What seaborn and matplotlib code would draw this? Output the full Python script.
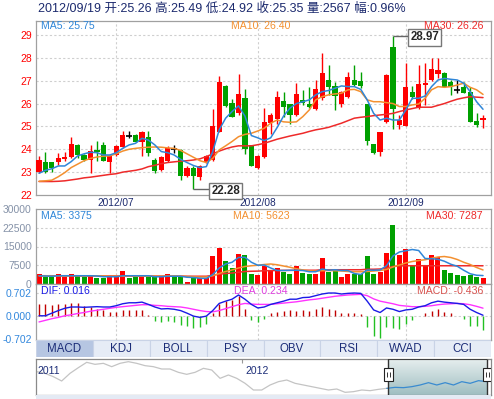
import numpy as np
import matplotlib
matplotlib.use("Agg")
import matplotlib.pyplot as plt
from matplotlib.colors import LinearSegmentedColormap
from matplotlib.patches import Rectangle
import seaborn as sns

# daily candles 2012/06/15 .. 2012/09/19
opens = [23.02, 23.43, 23.43, 23.46, 23.56, 23.68, 24.19, 23.75, 23.53, 23.97,
         24.19, 23.43, 23.75, 24.11, 24.60, 24.63, 24.33, 24.55, 23.55, 23.09,
         23.50, 24.00, 23.95, 22.85, 23.20, 22.80, 23.45, 23.55, 24.77, 26.77,
         26.04, 25.57, 26.23, 24.19, 23.20, 23.65, 25.17, 25.31, 26.11, 25.98,
         25.50, 26.16, 25.98, 25.76, 26.23, 27.03, 26.77, 25.98, 26.30, 27.03,
         26.99, 25.98, 24.22, 23.90, 25.21, 28.49, 25.06, 25.03, 26.51, 25.79,
         26.83, 27.03, 27.29, 27.35, 26.96, 26.60, 26.71, 26.52, 25.25, 25.26]
highs = [23.71, 23.90, 23.45, 23.85, 23.90, 24.55, 24.22, 23.80, 24.19, 24.38,
         24.30, 23.80, 24.20, 24.80, 24.78, 24.65, 24.80, 24.80, 23.60, 23.70,
         24.15, 24.20, 24.00, 23.25, 23.25, 23.30, 23.75, 25.78, 27.20, 26.80,
         26.20, 27.28, 26.62, 24.20, 23.75, 25.79, 25.57, 26.55, 26.49, 26.00,
         26.89, 26.60, 26.74, 27.03, 28.20, 27.69, 26.96, 26.55, 27.40, 27.69,
         27.40, 26.00, 24.25, 24.76, 27.30, 28.97, 25.50, 27.79, 26.77, 27.69,
         27.76, 28.00, 27.98, 27.40, 27.03, 27.03, 26.96, 26.74, 25.57, 25.49]
lows = [22.95, 22.98, 23.00, 23.30, 23.50, 23.60, 23.60, 23.50, 22.98, 23.50,
        23.50, 22.98, 23.70, 24.05, 24.50, 24.30, 23.70, 23.70, 22.98, 23.05,
        23.45, 23.85, 22.65, 22.80, 22.28, 22.65, 23.40, 23.50, 24.75, 25.85,
        25.40, 25.50, 23.80, 23.25, 23.15, 23.60, 24.67, 25.10, 25.43, 25.09,
        25.45, 25.94, 25.80, 25.70, 26.16, 26.38, 25.72, 25.84, 26.23, 26.78,
        26.70, 24.19, 23.80, 23.71, 25.15, 24.87, 24.87, 25.00, 26.19, 25.75,
        25.94, 27.00, 27.10, 26.71, 26.38, 26.48, 26.45, 25.20, 24.96, 24.92]
closes = [23.53, 23.02, 23.17, 23.60, 23.68, 24.23, 23.75, 23.53, 23.93, 23.90,
          23.50, 23.71, 24.14, 24.63, 24.60, 24.33, 24.77, 23.82, 23.05, 23.65,
          24.05, 24.00, 22.85, 23.20, 22.85, 23.25, 23.72, 25.02, 26.93, 25.90,
          25.43, 26.42, 24.00, 23.27, 23.71, 25.20, 25.50, 26.27, 25.87, 25.50,
          26.42, 26.04, 25.84, 26.62, 27.32, 26.71, 26.35, 26.52, 27.18, 26.81,
          26.78, 24.34, 23.85, 24.76, 27.25, 25.76, 25.28, 26.71, 26.30, 26.86,
          26.92, 27.50, 27.47, 26.74, 26.71, 26.60, 26.48, 25.21, 25.06, 25.35]
ma5 = [22.95, 23.08, 23.15, 23.27, 23.27, 23.46, 23.71, 23.80, 23.87, 23.85,
       23.75, 23.75, 23.85, 24.04, 24.19, 24.26, 24.48, 24.40, 24.19, 23.90,
       23.85, 23.75, 23.56, 23.42, 23.29, 23.20, 23.24, 23.90, 24.85, 25.36,
       25.65, 25.90, 25.45, 24.60, 24.50, 24.38, 24.50, 24.95, 25.45, 25.80,
       26.00, 26.08, 26.16, 26.38, 26.52, 26.57, 26.67, 26.77, 26.74, 26.74,
       26.62, 26.16, 25.57, 25.28, 25.36, 25.28, 25.28, 25.72, 26.23, 26.23,
       26.33, 26.74, 27.03, 27.10, 27.06, 27.03, 26.89, 26.52, 26.08, 25.75]
ma10 = [22.60, 22.62, 22.65, 22.80, 22.98, 23.20, 23.35, 23.50, 23.60, 23.66,
        23.70, 23.71, 23.80, 23.92, 24.00, 24.04, 24.07, 24.09, 24.10, 24.09,
        24.06, 24.04, 23.95, 23.80, 23.65, 23.50, 23.42, 23.60, 23.97, 24.15,
        24.34, 24.55, 24.65, 24.70, 24.80, 24.92, 25.14, 25.28, 25.20, 25.18,
        25.20, 25.43, 25.72, 26.16, 26.30, 26.38, 26.42, 26.45, 26.60, 26.62,
        26.52, 26.16, 26.08, 26.08, 26.04, 26.00, 25.87, 25.87, 25.94, 25.98,
        26.23, 26.60, 26.74, 26.71, 26.74, 26.81, 26.89, 26.71, 26.60, 26.40]
ma30 = [22.59, 22.59, 22.59, 22.60, 22.62, 22.66, 22.70, 22.75, 22.78, 22.82,
        22.86, 22.90, 22.93, 23.00, 23.04, 23.08, 23.14, 23.24, 23.30, 23.37,
        23.42, 23.45, 23.48, 23.50, 23.53, 23.58, 23.68, 23.80, 23.92, 24.02,
        24.10, 24.15, 24.15, 24.15, 24.20, 24.26, 24.35, 24.44, 24.51, 24.58,
        24.64, 24.70, 24.78, 24.85, 24.90, 24.96, 25.05, 25.14, 25.25, 25.36,
        25.40, 25.43, 25.47, 25.50, 25.53, 25.57, 25.65, 25.72, 25.78, 25.84,
        25.84, 25.84, 25.92, 26.00, 26.10, 26.19, 26.25, 26.30, 26.28, 26.26]

volume = [3950, 2900, 2900, 3950, 2900, 3950, 3100, 2900, 3550, 2500,
          2500, 2900, 3100, 5100, 2500, 2900, 2900, 2900, 2900, 2900,
          3950, 2900, 2900, 900, 2500, 2500, 2500, 11200, 14500, 9100,
          6450, 11850, 11450, 4200, 3550, 7100, 5100, 6600, 4850, 3950,
          7100, 4450, 3950, 4200, 10400, 4750, 5100, 2650, 4200, 4200,
          3950, 11050, 3950, 4850, 12350, 23700, 11700, 14100, 7500, 10150,
          7500, 11450, 10800, 5500, 4450, 3550, 3150, 3550, 2900, 2567]
vol_ma5 = [3300, 3200, 3100, 3300, 3300, 3300, 3300, 3300, 3300, 3200,
           2900, 2900, 2900, 3300, 3300, 3300, 3300, 3300, 2900, 2900,
           3100, 3100, 3100, 2700, 2600, 2300, 2200, 3800, 6400, 8000,
           8700, 10600, 10700, 8700, 7500, 7600, 6400, 5400, 5400, 5500,
           5500, 5400, 4900, 4900, 6000, 5500, 5700, 5400, 5400, 4200,
           3800, 5600, 5500, 5600, 7300, 11200, 12800, 13300, 13800, 13400,
           10200, 10100, 9900, 9100, 7900, 7100, 5500, 4100, 3500, 3375]
vol_ma10 = [3300, 3300, 3250, 3250, 3200, 3300, 3300, 3250, 3300, 3250,
            3200, 3100, 3100, 3100, 3200, 3200, 3100, 3100, 3100, 3100,
            3200, 3200, 3100, 3000, 2900, 2800, 2800, 3300, 4200, 5000,
            5600, 6400, 7000, 7300, 7500, 7800, 8000, 7700, 7200, 6700,
            6100, 5600, 5300, 5200, 5300, 5400, 5300, 5200, 5000, 4900,
            4900, 5000, 5200, 5400, 5800, 6800, 7600, 8400, 9000, 9400,
            9700, 10300, 10800, 11000, 10600, 9800, 8700, 7800, 6600, 5623]
vol_ma30 = [3300, 3300, 3300, 3300, 3300, 3300, 3300, 3250, 3250, 3250,
            3200, 3200, 3200, 3200, 3200, 3200, 3200, 3150, 3150, 3150,
            3150, 3150, 3150, 3100, 3100, 3100, 3100, 3500, 3900, 4200,
            4400, 4700, 5000, 5100, 5150, 5300, 5350, 5400, 5450, 5450,
            5500, 5500, 5500, 5500, 5700, 5700, 5700, 5700, 5700, 5700,
            5700, 5900, 5900, 6000, 6400, 7000, 7200, 7300, 7300, 7300,
            7300, 7300, 7300, 7300, 7300, 7300, 7300, 7300, 7300, 7287]

dif = [0.00, 0.00, 0.08, 0.16, 0.23, 0.27, 0.27, 0.26, 0.27, 0.28,
       0.27, 0.27, 0.31, 0.37, 0.40, 0.40, 0.42, 0.35, 0.27, 0.21,
       0.22, 0.20, 0.16, 0.08, -0.01, -0.05, -0.01, 0.16, 0.38, 0.45,
       0.51, 0.64, 0.51, 0.35, 0.24, 0.27, 0.35, 0.40, 0.45, 0.51,
       0.51, 0.56, 0.57, 0.62, 0.67, 0.70, 0.70, 0.67, 0.69, 0.70,
       0.69, 0.45, 0.18, 0.10, 0.24, 0.20, 0.13, 0.18, 0.20, 0.27,
       0.31, 0.40, 0.45, 0.42, 0.40, 0.38, 0.35, 0.20, 0.10, 0.016]
dea = [-0.19, -0.14, -0.09, -0.05, 0.00, 0.03, 0.07, 0.10, 0.14, 0.17,
       0.20, 0.23, 0.26, 0.28, 0.30, 0.32, 0.34, 0.34, 0.32, 0.31,
       0.29, 0.28, 0.27, 0.24, 0.20, 0.16, 0.13, 0.12, 0.16, 0.22,
       0.28, 0.34, 0.38, 0.36, 0.35, 0.35, 0.35, 0.37, 0.39, 0.41,
       0.43, 0.46, 0.49, 0.51, 0.54, 0.57, 0.60, 0.62, 0.64, 0.65,
       0.66, 0.62, 0.52, 0.45, 0.41, 0.37, 0.32, 0.30, 0.28, 0.28,
       0.29, 0.31, 0.34, 0.36, 0.37, 0.38, 0.37, 0.34, 0.29, 0.234]
macd = [0.37, 0.35, 0.32, 0.35, 0.37, 0.40, 0.38, 0.29, 0.26, 0.20,
        0.18, 0.11, 0.13, 0.18, 0.18, 0.18, 0.18, 0.02, -0.16, -0.19,
        -0.16, -0.19, -0.27, -0.33, -0.38, -0.36, -0.25, 0.10, 0.37, 0.45,
        0.49, 0.62, 0.20, -0.12, -0.20, -0.10, 0.10, 0.12, 0.14, 0.18,
        0.16, 0.18, 0.16, 0.20, 0.27, 0.20, 0.18, 0.10, 0.10, 0.10,
        0.06, -0.36, -0.63, -0.68, -0.36, -0.38, -0.41, -0.25, -0.14, -0.02,
        0.08, 0.16, 0.20, 0.13, 0.08, 0.00, -0.09, -0.30, -0.33, -0.436]

# overview strip (2011 .. 2012), level above the strip floor
nav_level = [70, 65, 55, 42, 65, 82, 98, 92, 95, 85,
             95, 100, 95, 88, 85, 78, 78, 68, 62, 68,
             80, 75, 50, 60, 50, 35, 15, 15, 30, 40,
             45, 35, 30, 25, 20, 15, 18, 8, 10, 15,
             13, 17, 20, 23, 22, 25, 30, 37, 30, 37,
             30, 40, 35, 43, 40]

month_pos = [12, 34, 57]
month_labels = ["2012/07", "2012/08", "2012/09"]
tab_names = ["MACD", "KDJ", "BOLL", "PSY", "OBV", "RSI", "WVAD", "CCI"]
header = "2012/09/19 开:25.26 高:25.49 低:24.92 收:25.35 量:2567 幅:0.96%"

sns.set_style("white")
plt.rcParams["font.family"] = ["Liberation Sans", "Noto Sans CJK SC"]

W, H = 494, 399
fig = plt.figure(figsize=(W / 100, H / 100), dpi=100)


def panel(x0, y0, x1, y1):
    return fig.add_axes([x0 / W, 1 - y1 / H, (x1 - x0) / W, (y1 - y0) / H])


def ftext(x, y, s, **kw):
    fig.text(x / W, 1 - y / H, s, va="center", **kw)


idx = np.arange(len(closes))
XLIM = (-0.47, 70.24)
RED, GREEN = "#ff0000", "#00a000"
C5, C10, C30 = "#2f86d8", "#f39030", "#ee2a2a"
GRID = dict(color="#cfcfcf", lw=0.8, ls=(0, (2, 2)), zorder=0)


def frame(ax):
    for s in ax.spines.values():
        s.set_color("#a0a0a0")
        s.set_linewidth(0.9)
    for m in month_pos:
        ax.axvline(m, **GRID)


o, h, l, c = map(np.array, (opens, highs, lows, closes))
col = np.where(c > o, RED, np.where(c < o, GREEN, "black"))

# ---- price panel
ax = panel(36, 21, 491, 195)
frame(ax)
for p in range(23, 30):
    ax.axhline(p, **GRID)
ax.vlines(idx, l, h, colors=col, lw=1, zorder=2)
ax.bar(idx, np.abs(c - o), bottom=np.minimum(o, c), width=0.8, color=col, lw=0, zorder=3)
doji = c == o
ax.hlines(c[doji], idx[doji] - 0.45, idx[doji] + 0.45, colors="black", lw=1.2, zorder=3)
for ys, cc in ((ma30, C30), (ma10, C10), (ma5, C5)):
    sns.lineplot(x=idx, y=ys, ax=ax, color=cc, lw=1.1, zorder=4)
ax.set_xlim(*XLIM)
ax.set_ylim(22.0, 29.61)
ax.set_yticks(range(22, 30))
ax.tick_params(axis="y", length=0, pad=2.5, labelcolor="red", labelsize=7.5)
ax.set_xticks(month_pos, month_labels)
ax.tick_params(axis="x", length=0, pad=1.8, labelcolor="#1c2a6e", labelsize=7.3)
ax.set_xlabel("")
ax.set_ylabel("")

ax.hlines(28.97, 55, 57.34, color="#666666", lw=1, zorder=5)
ax.text(57.7, 28.9, "28.97", ha="left", va="center", fontsize=8.3, fontweight="bold",
        bbox=dict(boxstyle="square,pad=0.2", fc="white", ec="#777777", lw=1), zorder=6)
ax.hlines(22.28, 24, 26.4, color="#666666", lw=1, zorder=5)
ax.text(26.75, 22.18, "22.28", ha="left", va="center", fontsize=8.3, fontweight="bold",
        bbox=dict(boxstyle="square,pad=0.2", fc="white", ec="#777777", lw=1), zorder=6)

# ---- volume panel
axv = panel(36, 209, 491, 284)
frame(axv)
for v in (7500, 15000, 22500):
    axv.axhline(v, **GRID)
vcol = np.where(c > o, RED, GREEN)
axv.bar(idx, volume, width=0.78, color=vcol, lw=0, zorder=2)
for ys, cc in ((vol_ma30, C30), (vol_ma10, C10), (vol_ma5, C5)):
    sns.lineplot(x=idx, y=ys, ax=axv, color=cc, lw=1.1, zorder=4)
axv.set_xlim(*XLIM)
axv.set_ylim(0, 30000)
axv.set_yticks([0, 7500, 15000, 22500, 30000])
axv.set_xticks([])
axv.tick_params(axis="y", length=0, pad=3, labelcolor="#8592a8", labelsize=7.5)
axv.set_xlabel("")
axv.set_ylabel("")

# ---- MACD panel
axm = panel(36, 284, 491, 340)
frame(axm)
axm.axhline(0.702, **GRID)
axm.axhline(0.0, **GRID)
mv = np.array(macd)
axm.vlines(idx, 0, mv, colors=np.where(mv >= 0, "#c00000", "#22c022"), lw=1.0, zorder=2)
sns.lineplot(x=idx, y=dea, ax=axm, color="#ff33ff", lw=1.0, zorder=3)
sns.lineplot(x=idx, y=dif, ax=axm, color="#1a1ae6", lw=1.0, zorder=4)
axm.set_xlim(*XLIM)
axm.set_ylim(-0.746, 0.978)
axm.set_yticks([-0.702, 0, 0.702], ["-0.702", "0.000", "0.702"])
axm.set_xticks([])
axm.tick_params(axis="y", length=0, pad=3, labelcolor="#3388dd", labelsize=7.5)
axm.set_xlabel("")
axm.set_ylabel("")

# ---- indicator tabs
axt = panel(36, 340, 491, 357)
axt.set_xlim(0, len(tab_names))
axt.set_ylim(0, 1)
axt.axis("off")
for i, name in enumerate(tab_names):
    axt.add_patch(Rectangle((i, 0), 1, 1, fc="#b6c6e2" if i == 0 else "#e6ecf6",
                            ec="#c9d3e6", lw=0.8))
    axt.text(i + 0.5, 0.48, name, ha="center", va="center", color="#1c2d78", fontsize=8.3)

# ---- overview navigator
axn = panel(36, 359, 491, 395)
for s in axn.spines.values():
    s.set_color("#8a8a8a")
    s.set_linewidth(0.9)
k = np.arange(len(nav_level))
sel0, sel1 = 42.17, 54.06
cmap = LinearSegmentedColormap.from_list("sel", ["#e6eeee", "#9fbec1"])
axn.imshow(np.linspace(0, 1, 60).reshape(-1, 1), extent=[sel0, sel1, 0, 108],
           aspect="auto", cmap=cmap, origin="upper", zorder=1)
sns.lineplot(x=k[:43], y=nav_level[:43], ax=axn, color="#c4c4c4", lw=0.9, zorder=2)
sns.lineplot(x=k[42:], y=nav_level[42:], ax=axn, color="#3a8bd0", lw=0.9, zorder=3)
axn.vlines([sel0, sel1], 0, 108, color="#333333", lw=1, zorder=4)
axn.hlines(107.3, sel0, sel1, color="#333333", lw=1.2, zorder=4)
axn.vlines(24.65, 96, 108, color="#999999", lw=0.8)
for hx in (sel0, sel1):
    axn.add_patch(Rectangle((hx - 0.55, 42), 1.1, 39, fc="white", ec="#222222", lw=0.8, zorder=5))
    axn.vlines([hx - 0.17, hx + 0.17], 55, 68, color="#333333", lw=0.7, zorder=6)
axn.text(0.1, 73, "2011", color="#1c2d78", fontsize=7.5, va="center")
axn.text(25.0, 73, "2012", color="#1c2d78", fontsize=7.5, va="center")
axn.set_xlim(-0.08, 54.5)
axn.set_ylim(0, 108)
axn.set_xticks([])
axn.set_yticks([])
axn.set_xlabel("")
axn.set_ylabel("")

strip = panel(36, 395, 491, 399)
strip.axis("off")
strip.add_patch(Rectangle((0, 0), 1, 1, fc="#e4eaf4", ec="none", transform=strip.transAxes))

# ---- overlay labels
ftext(38, 9, header, color="#1c2a6e", fontsize=9.0)
ftext(41, 26, "MA5: 25.75", color=C5, fontsize=7.6)
ftext(261, 26, "MA10: 26.40", color=C10, fontsize=7.6, ha="center")
ftext(483, 26, "MA30: 26.26", color=C30, fontsize=7.6, ha="right")
ftext(41, 216, "MA5: 3375", color=C5, fontsize=7.6)
ftext(261, 216, "MA10: 5623", color=C10, fontsize=7.6, ha="center")
ftext(483, 216, "MA30: 7287", color=C30, fontsize=7.6, ha="right")
ftext(41, 291, "DIF: 0.016", color="#1a1ae6", fontsize=7.6)
ftext(261, 291, "DEA: 0.234", color="#e040e0", fontsize=7.6, ha="center")
ftext(483, 291, "MACD: -0.436", color="#d9534f", fontsize=7.6, ha="right")

fig.savefig("out.png", dpi=100)
